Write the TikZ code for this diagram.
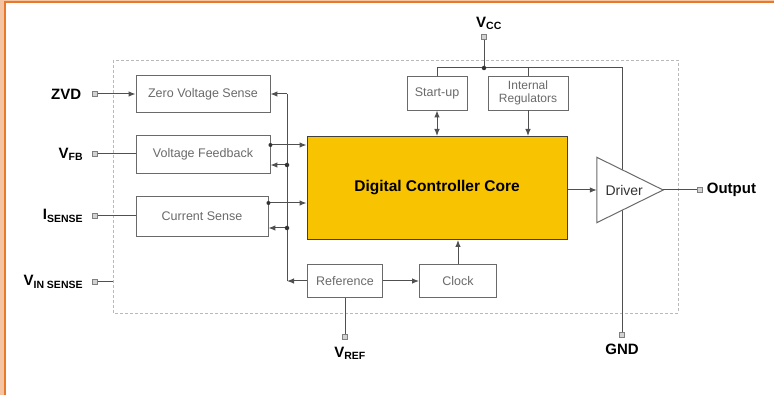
\documentclass[tikz,border=0pt]{standalone}
\usepackage{fontspec}
\setmainfont{Liberation Sans}
\usepackage{xcolor}
\usetikzlibrary{arrows.meta, positioning, calc}
\definecolor{coreyellow}{HTML}{F8C300}
\definecolor{frameorange}{HTML}{E8782A}
\definecolor{framepeach}{HTML}{F5C4A2}
\definecolor{boxgray}{HTML}{6A6A6A}
\definecolor{wiregray}{HTML}{505050}

\begin{document}
\begin{tikzpicture}[
x=1pt, y=-1pt,
block/.style={draw=boxgray,
rectangle,
line width=0.9pt,
minimum width=134pt,
minimum height=37pt,
inner sep=1pt,
align=center,
text=boxgray,
font=\fontsize{12.5}{13}\selectfont},
pin/.style={draw=gray, fill=gray!35, rectangle, minimum size=5pt, inner sep=0pt},
pinlabel/.style={font=\bfseries\fontsize{15}{16}\selectfont, inner sep=1pt},
wire/.style={draw=wiregray, line width=1pt},
arrow/.style={wire, -{Latex[length=7pt, width=5.5pt]}},
dot/.style={circle, fill=black!80, minimum size=4.5pt, inner sep=0pt}
]

% frame
\useasboundingbox (0,0) rectangle (774,395);
\fill[white] (0,0) rectangle (774,395);
\fill[framepeach] (0,0) rectangle (4,395);
\fill[framepeach] (0,0) rectangle (774,1);
\draw[frameorange, line width=2pt] (5,395) -- (5,2) -- (774,2);

% chip outline
\draw[gray!55, line width=0.9pt, dash pattern=on 3pt off 2pt] (113,60) rectangle (678,313);

% blocks
\node[block] (zvs) at (203,94) {Zero Voltage Sense};
\node[block, minimum height=38pt] (vfb) at (203,154) {Voltage Feedback};
\node[block, minimum width=132pt, minimum height=40pt] (csense) at (202,216) {Current Sense};
\node[draw=black!75, line width=1pt, fill=coreyellow, rectangle, minimum width=260pt, minimum height=103pt,
font=\bfseries\fontsize{15.5}{16}\selectfont] (core) at (437,188) {Digital Controller Core};
\node[block, minimum width=60pt, minimum height=34pt] (startup) at (437,93) {Start-up};
\node[block, minimum width=80pt, minimum height=34pt, font=\fontsize{12}{13}\selectfont] (intreg) at (528,93) {Internal\\Regulators};
\node[block, minimum width=75pt, minimum height=33pt] (reference) at (345,281) {Reference};
\node[block, minimum width=77pt, minimum height=33pt] (clock) at (458,281) {Clock};

% pins
\node[pin] (zvdpin) at (95,94) {};
\node[pin] (vfbpin) at (95,154) {};
\node[pin] (isensepin) at (95,216) {};
\node[pin] (vinpin) at (95,282) {};
\node[pin] (vccpin) at (484,37) {};
\node[pin] (vrefpin) at (345,337) {};
\node[pin] (gndpin) at (622,335) {};
\node[pin] (outpin) at (700,190) {};

\node[pinlabel, left=10pt of zvdpin] (zvd) {ZVD};
\node[pinlabel, left=8pt of vfbpin] (vfblabel) {V\textsubscript{FB}};
\node[pinlabel, left=8pt of isensepin] (isense) {I\textsubscript{SENSE}};
\node[pinlabel, left=8pt of vinpin] (vin) {V\textsubscript{IN SENSE}};
\node[pinlabel, above=3pt of vccpin, xshift=5pt] (vcc) {V\textsubscript{CC}};
\node[pinlabel, below=6pt of vrefpin, xshift=5pt] (vref) {V\textsubscript{REF}};
\node[pinlabel, below=5pt of gndpin] (gnd) {GND};
\node[pinlabel, right=3pt of outpin] (output) {Output};

% inputs
\draw[arrow] (zvdpin) -- (zvs);
\draw[wire] (vfbpin) -- (vfb);
\draw[wire] (isensepin) -- (csense);
\coordinate (vinend) at (113,282);
\draw[wire] (vinpin) -- (vinend);

% reference bus
\coordinate (bustop) at (287,94);
\coordinate (busbot) at (287,281);
\draw[wire] (bustop) -- (busbot);
\draw[arrow] (bustop) -- (zvs.east);
\draw[arrow] (reference) -- (busbot);

\coordinate (vfbhi) at ($(vfb.east)+(0,-9)$);
\coordinate (vfblo) at ($(vfb.east)+(0,11)$);
\coordinate (cshi) at ($(csense.east)+(0,-13)$);
\coordinate (cslo) at ($(csense.east)+(0,12)$);
\draw[arrow] (vfbhi) -- (vfbhi -| core.west);
\draw[arrow] (vfblo -| bustop) -- (vfblo);
\draw[arrow] (cshi) -- (cshi -| core.west);
\draw[arrow] (cslo -| bustop) -- (cslo);
\node[dot] at (vfblo -| bustop) {};
\node[dot] at (cslo -| bustop) {};
\node[dot, minimum size=4pt] at (vfbhi) {};
\node[dot, minimum size=4pt] at (cshi) {};

% supply rail
\coordinate (vccjoin) at (484,68);
\coordinate (railend) at (622,68);
\draw[wire] (vccpin) -- (vccjoin);
\draw[wire] (startup.north) |- (railend) -- (gndpin);
\draw[wire] (intreg.north) -- (intreg.north |- vccjoin);
\node[dot] at (vccjoin) {};

\draw[wire, {Latex[length=7pt, width=5.5pt]}-{Latex[length=7pt, width=5.5pt]}] (startup) -- (startup |- core.north);
\draw[arrow] (intreg) -- (intreg |- core.north);

% driver
\node[minimum width=66pt, minimum height=65pt, inner sep=0pt] (driver) at (630,190) {};
\fill[white] (driver.north west) -- (driver.east) -- (driver.south west) -- cycle;
\draw[boxgray, line width=1pt] (driver.north west) -- (driver.east) -- (driver.south west) -- cycle;
\node[font=\fontsize{14}{15}\selectfont, text=black!80, anchor=west] (drivertext) at (602,190) {Driver};
\draw[arrow] (core.east |- driver.west) -- (driver.west);
\draw[wire] (driver.east) -- (outpin);

% timing
\draw[arrow] (reference) -- (clock);
\draw[arrow] (clock) -- (clock |- core.south);
\draw[wire] (reference) -- (vrefpin);

\end{tikzpicture}
\end{document}
